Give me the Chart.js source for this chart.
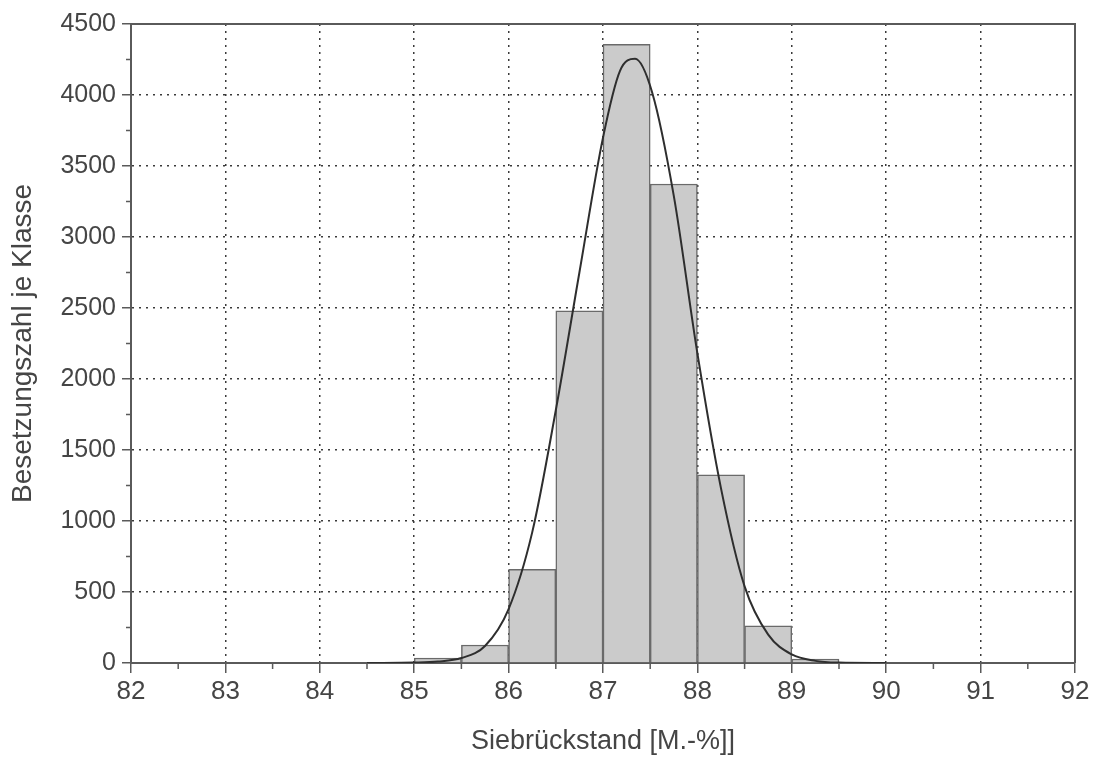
<!DOCTYPE html>
<html>
<head>
<meta charset="utf-8">
<script src="https://cdn.jsdelivr.net/npm/chart.js@4"></script>
<style>
  html, body { margin: 0; padding: 0; background: #fff; }
  #wrap { width: 1094px; height: 759px; }
</style>
</head>
<body>
<div id="wrap"><canvas id="chart" width="1094" height="759"></canvas></div>
<script>
// Klassen (Untergrenze, Breite 0,5) und Besetzungszahlen
const klassenStart = [85, 85.5, 86, 86.5, 87, 87.5, 88, 88.5, 89];
const klassenBreite = 0.5;
const besetzung = [35, 127, 660, 2480, 4357, 3373, 1325, 262, 28];

// Verteilungskurve
const kurveX = [84.5, 85, 85.25, 85.5, 85.75, 86, 86.25, 86.5, 86.75, 87, 87.18, 87.34, 87.52, 87.75, 88, 88.25, 88.5, 88.75, 89, 89.25, 89.5, 90];
const kurveY = [0, 3, 10, 35, 120, 380, 920, 1780, 2750, 3700, 4170, 4255, 4020, 3290, 2180, 1230, 540, 200, 60, 15, 3, 0];

const xMin = 82, xMax = 92;
const yMin = 0, yMax = 4500;

const textFarbe = "#454545";
const achsFarbe = "#5a5a5a";

const balken = klassenStart.map((s, i) => ({ x: s + klassenBreite / 2, y: besetzung[i] }));
const kurve = kurveX.map((x, i) => ({ x: x, y: kurveY[i] }));

// kleine Zwischenstriche und Rahmen oben/rechts
const rahmenPlugin = {
  id: "rahmen",
  afterDraw(chart) {
    const ctx = chart.ctx;
    const a = chart.chartArea;
    const sx = chart.scales.x;
    const sy = chart.scales.y;
    ctx.save();
    ctx.strokeStyle = achsFarbe;
    ctx.lineWidth = 2;
    ctx.beginPath();
    ctx.moveTo(a.left, a.top);
    ctx.lineTo(a.right, a.top);
    ctx.lineTo(a.right, a.bottom);
    ctx.stroke();

    ctx.lineWidth = 1.5;
    ctx.beginPath();
    for (let v = xMin + 0.5; v < xMax; v += 1) {
      const px = sx.getPixelForValue(v);
      ctx.moveTo(px, a.bottom);
      ctx.lineTo(px, a.bottom + 6);
    }
    for (let v = yMin + 250; v < yMax; v += 500) {
      const py = sy.getPixelForValue(v);
      ctx.moveTo(a.left, py);
      ctx.lineTo(a.left - 5, py);
    }
    ctx.stroke();
    ctx.restore();
  }
};

const ctx = document.getElementById("chart").getContext("2d");

new Chart(ctx, {
  data: {
    datasets: [
      {
        type: "line",
        data: kurve,
        borderColor: "#2e2e2e",
        borderWidth: 2,
        pointRadius: 0,
        fill: false,
        cubicInterpolationMode: "monotone",
        order: 0
      },
      {
        type: "bar",
        data: balken,
        backgroundColor: "#cbcbcb",
        borderColor: "#6a6a6a",
        borderWidth: 1.5,
        barPercentage: 1,
        categoryPercentage: 1,
        order: 1
      }
    ]
  },
  options: {
    responsive: false,
    animation: false,
    layout: { padding: { top: 24, right: 19, left: 0, bottom: 0 } },
    plugins: {
      legend: { display: false },
      tooltip: { enabled: false }
    },
    scales: {
      x: {
        type: "linear",
        min: xMin,
        max: xMax,
        offset: false,
        afterFit(scale) { scale.height = 96; },
        ticks: {
          stepSize: 1,
          color: textFarbe,
          font: { family: "Liberation Sans", size: 26 },
          padding: 3,
          maxRotation: 0,
          callback: (v) => String(v)
        },
        grid: {
          offset: false,
          color: "#3a3a3a",
          lineWidth: 1.5,
          tickColor: achsFarbe,
          tickLength: 10,
          tickWidth: 1.5,
          tickBorderDash: [1, 0]
        },
        border: { display: true, color: achsFarbe, width: 2, dash: [2, 5] },
        title: {
          display: true,
          text: "Siebrückstand [M.-%]]",
          color: textFarbe,
          font: { family: "Liberation Sans", size: 27 },
          padding: { top: 0, bottom: 1 }
        }
      },
      y: {
        type: "linear",
        min: yMin,
        max: yMax,
        afterFit(scale) { scale.width = 131; },
        ticks: {
          stepSize: 500,
          color: textFarbe,
          font: { family: "Liberation Sans", size: 25 },
          padding: 6,
          callback: (v) => String(v)
        },
        grid: {
          color: "#3a3a3a",
          lineWidth: 1.5,
          tickColor: achsFarbe,
          tickLength: 9,
          tickWidth: 1.5,
          tickBorderDash: [1, 0]
        },
        border: { display: true, color: achsFarbe, width: 2, dash: [2, 5] },
        title: {
          display: true,
          text: "Besetzungszahl je Klasse",
          color: textFarbe,
          font: { family: "Liberation Sans", size: 28 },
          padding: { top: 6, bottom: 0 }
        }
      }
    }
  },
  plugins: [rahmenPlugin]
});
</script>
</body>
</html>
